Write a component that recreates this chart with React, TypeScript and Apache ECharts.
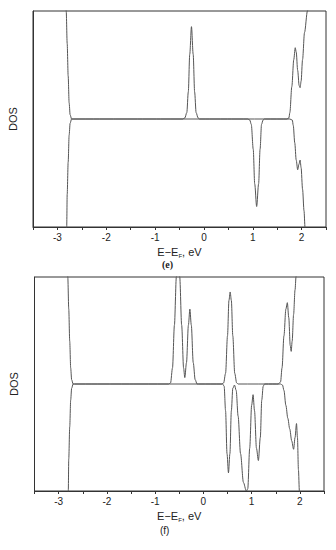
import React, { useEffect, useRef } from "react";
import * as echarts from "echarts";

// Panel (e): spin-up (positive) and spin-down (negative) DOS, [E - E_F (eV), DOS]
const E_UP: [number, number][] = [
  [-2.84, 1.15], [-2.82, 1.0], [-2.8, 0.7], [-2.78, 0.4], [-2.76, 0.15], [-2.74, 0.04], [-2.71, 0], [-2.68, 0],
  [-0.43, 0], [-0.39, 0.01], [-0.35, 0.06], [-0.32, 0.25], [-0.29, 0.6], [-0.255, 0.855], [-0.22, 0.6],
  [-0.19, 0.25], [-0.16, 0.06], [-0.12, 0.01], [-0.09, 0],
  [1.7, 0], [1.74, 0.01], [1.76, 0.06], [1.8, 0.3], [1.84, 0.55], [1.87, 0.66], [1.89, 0.62], [1.92, 0.45],
  [1.95, 0.31], [1.97, 0.29], [1.99, 0.35], [2.02, 0.55], [2.06, 0.8], [2.12, 1.0], [2.15, 1.15],
];
const E_DN: [number, number][] = [
  [-2.83, -1.15], [-2.81, -1.0], [-2.8, -0.7], [-2.78, -0.4], [-2.76, -0.15], [-2.74, -0.04], [-2.71, 0], [-2.68, 0],
  [0.9, 0], [0.94, -0.01], [0.97, -0.05], [1.01, -0.28], [1.04, -0.6], [1.08, -0.81], [1.12, -0.6],
  [1.15, -0.28], [1.18, -0.05], [1.21, -0.01], [1.24, 0],
  [1.76, 0], [1.81, -0.01], [1.83, -0.06], [1.86, -0.22], [1.89, -0.38], [1.92, -0.47], [1.945, -0.42],
  [1.97, -0.38], [1.99, -0.45], [2.02, -0.65], [2.05, -0.85], [2.07, -1.0], [2.09, -1.15],
];

// Panel (f)
const F_UP: [number, number][] = [
  [-2.82, 1.15], [-2.81, 1.0], [-2.79, 0.7], [-2.77, 0.4], [-2.75, 0.15], [-2.73, 0.04], [-2.7, 0], [-2.67, 0],
  [-0.72, 0], [-0.68, 0.01], [-0.64, 0.15], [-0.6, 0.55], [-0.56, 1.0], [-0.525, 1.15], [-0.49, 1.0],
  [-0.45, 0.55], [-0.41, 0.15], [-0.385, 0.06], [-0.35, 0.2], [-0.31, 0.55], [-0.28, 0.7], [-0.25, 0.55],
  [-0.21, 0.2], [-0.17, 0.04], [-0.13, 0], [-0.1, 0],
  [0.38, 0], [0.42, 0.01], [0.46, 0.1], [0.5, 0.45], [0.53, 0.78], [0.555, 0.86], [0.58, 0.78],
  [0.61, 0.45], [0.65, 0.1], [0.69, 0.01], [0.72, 0],
  [1.55, 0], [1.6, 0.02], [1.63, 0.15], [1.67, 0.45], [1.71, 0.7], [1.74, 0.76], [1.77, 0.62],
  [1.8, 0.36], [1.82, 0.305], [1.84, 0.4], [1.87, 0.65], [1.9, 0.88], [1.92, 1.0], [1.94, 1.15],
];
const F_DN: [number, number][] = [
  [-2.82, -1.15], [-2.8, -1.0], [-2.79, -0.7], [-2.77, -0.4], [-2.75, -0.15], [-2.73, -0.04], [-2.7, 0], [-2.67, 0],
  [0.4, 0], [0.43, -0.02], [0.46, -0.25], [0.49, -0.65], [0.52, -0.83], [0.55, -0.65], [0.58, -0.25],
  [0.61, -0.04], [0.645, -0.01], [0.68, -0.06], [0.72, -0.3], [0.77, -0.65], [0.83, -0.92], [0.89, -1.0],
  [0.92, -0.98], [0.96, -0.6], [1.0, -0.2], [1.03, -0.1], [1.06, -0.25], [1.1, -0.6], [1.14, -0.715],
  [1.18, -0.5], [1.21, -0.15], [1.24, -0.02], [1.27, 0],
  [1.6, 0], [1.64, -0.01], [1.67, -0.06], [1.71, -0.2], [1.75, -0.32], [1.79, -0.42], [1.83, -0.53],
  [1.87, -0.61], [1.9, -0.5], [1.93, -0.37], [1.95, -0.5], [1.97, -0.8], [1.99, -1.0], [2.01, -1.15],
];

const X_MIN = -3.5;
const X_MAX = 2.5;
const X_STEP = 0.5;
const X_TITLE = "{n|E\u2212E}{s|F}{n|, eV}";
const Y_TITLE = "DOS";
const CAPTIONS = ["(e)", "(f)"];

const FONT = "'Liberation Sans', Arial, sans-serif";
const LINE = "#555";
const FRAME = "#333";

function xAxis(gridIndex: number) {
  return {
    type: "value",
    gridIndex,
    min: X_MIN,
    max: X_MAX,
    interval: X_STEP,
    name: X_TITLE,
    nameLocation: "middle",
    nameGap: 18,
    nameTextStyle: {
      rich: {
        n: { fontSize: 11, fontFamily: FONT, color: "#222" },
        s: { fontSize: 6, fontFamily: FONT, color: "#222", padding: [8, 0, 0, 0] },
      },
    },
    axisLine: { show: true, onZero: false, lineStyle: { color: FRAME, width: 1 } },
    axisTick: { show: true, inside: false, length: 3, lineStyle: { color: FRAME } },
    axisLabel: {
      margin: 5,
      fontSize: 10,
      fontFamily: FONT,
      color: "#222",
      formatter: (v: number) => (Number.isInteger(v) ? String(v) : ""),
    },
    splitLine: { show: false },
  };
}

function yAxis(gridIndex: number) {
  return {
    type: "value",
    gridIndex,
    min: -1,
    max: 1,
    name: Y_TITLE,
    nameLocation: "middle",
    nameGap: 15,
    nameRotate: 90,
    nameTextStyle: { fontSize: 11, fontFamily: FONT, color: "#222" },
    axisLine: { show: true, onZero: false, lineStyle: { color: FRAME, width: 1 } },
    axisTick: { show: false },
    axisLabel: { show: false },
    splitLine: { show: false },
  };
}

function series(data: [number, number][], idx: number) {
  return {
    type: "line",
    xAxisIndex: idx,
    yAxisIndex: idx,
    data,
    showSymbol: false,
    symbol: "none",
    smooth: 0.3,
    smoothMonotone: "x",
    clip: true,
    lineStyle: { color: LINE, width: 1 },
  };
}

export default function App() {
  const ref = useRef<HTMLDivElement>(null);
  useEffect(() => {
    if (!ref.current) return;
    const chart = echarts.init(ref.current, undefined, { renderer: "svg" });
    chart.setOption({
      animation: false,
      backgroundColor: "#fff",
      grid: [
        {
          left: 33, top: 11, width: 293, height: 216, show: true, borderColor: FRAME, borderWidth: 1,
          containLabel: false, outerBoundsMode: "none",
        },
        {
          left: 34.5, top: 277, width: 289.5, height: 214, show: true, borderColor: FRAME, borderWidth: 1,
          containLabel: false, outerBoundsMode: "none",
        },
      ],
      xAxis: [xAxis(0), xAxis(1)],
      yAxis: [yAxis(0), yAxis(1)],
      series: [series(E_UP, 0), series(E_DN, 0), series(F_UP, 1), series(F_DN, 1)],
      graphic: [
        {
          type: "text",
          left: 162,
          top: 259,
          style: { text: CAPTIONS[0], font: "bold 10px 'Liberation Serif', serif", fill: "#222" },
        },
        {
          type: "text",
          left: 160,
          top: 525,
          style: { text: CAPTIONS[1], font: "10px 'Liberation Sans', Arial, sans-serif", fill: "#222" },
        },
      ],
    });
    return () => chart.dispose();
  }, []);
  return (
    <div
      ref={ref}
      style={{ position: "absolute", left: 0, top: 0, width: 336, height: 550 }}
    />
  );
}
